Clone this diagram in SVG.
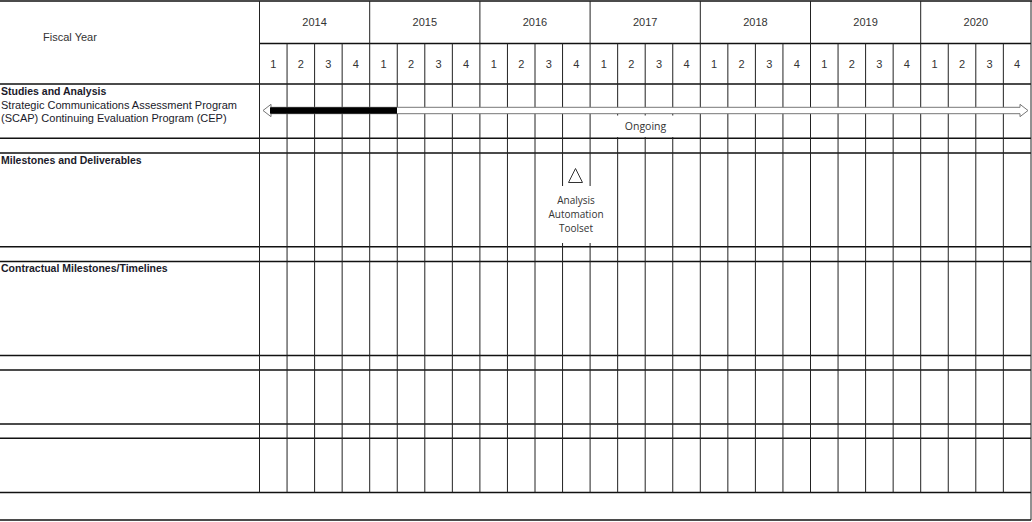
<svg xmlns="http://www.w3.org/2000/svg" width="1032" height="522" viewBox="0 0 1032 522">
  <style>
    .h { stroke:#111; stroke-width:1.5; fill:none; }
    .v { stroke:#222; stroke-width:1; fill:none; }
    .hd { font-family:"Liberation Sans", Arial, sans-serif; font-size:11px; fill:#333; text-anchor:middle; }
    .lbl { font-family:"Liberation Sans", Arial, sans-serif; font-size:11px; fill:#1a1a2a; }
    .b { font-weight:bold; font-size:10.5px; }
    .note { font-family:"Open Sans", "Noto Sans", sans-serif; font-size:10px; fill:#333; text-anchor:middle; }
  </style>
  <rect width="1032" height="522" fill="#fff"/>

  <g id="grid">
    <path class="h" d="M0 1H1032 M259.5 43.5H1031 M0 84H1031 M0 138.3H1031 M0 153H1031 M0 246.7H1031 M0 261.5H1031 M0 355.5H1031 M0 370H1031 M0 424H1031 M0 438.3H1031 M0 492.5H1031 M0 520H1031"/>
    <path class="v" d="M259.5 1V492.5 M369.7 1V492.5 M479.9 1V492.5 M590.1 1V492.5 M700.3 1V492.5 M810.5 1V492.5 M920.7 1V492.5 M1031 1V520"/>
    <path class="v" d="M287.05 43.5V492.5 M314.6 43.5V492.5 M342.15 43.5V492.5 M397.25 43.5V492.5 M424.8 43.5V492.5 M452.35 43.5V492.5 M507.45 43.5V492.5 M535 43.5V492.5 M562.55 43.5V492.5 M617.65 43.5V492.5 M645.2 43.5V492.5 M672.75 43.5V492.5 M727.85 43.5V492.5 M755.4 43.5V492.5 M782.95 43.5V492.5 M838.05 43.5V492.5 M865.6 43.5V492.5 M893.15 43.5V492.5 M948.25 43.5V492.5 M975.8 43.5V492.5 M1003.35 43.5V492.5"/>
  </g>

  <g id="header">
    <text class="hd" x="70" y="41">Fiscal Year</text>
    <text class="hd" x="314.6" y="26">2014</text>
    <text class="hd" x="424.8" y="26">2015</text>
    <text class="hd" x="535" y="26">2016</text>
    <text class="hd" x="645.2" y="26">2017</text>
    <text class="hd" x="755.4" y="26">2018</text>
    <text class="hd" x="865.6" y="26">2019</text>
    <text class="hd" x="975.8" y="26">2020</text>
    <g>
      <text class="hd" x="273.3" y="68">1</text><text class="hd" x="300.8" y="68">2</text><text class="hd" x="328.4" y="68">3</text><text class="hd" x="355.9" y="68">4</text>
      <text class="hd" x="383.5" y="68">1</text><text class="hd" x="411.0" y="68">2</text><text class="hd" x="438.6" y="68">3</text><text class="hd" x="466.1" y="68">4</text>
      <text class="hd" x="493.7" y="68">1</text><text class="hd" x="521.2" y="68">2</text><text class="hd" x="548.8" y="68">3</text><text class="hd" x="576.3" y="68">4</text>
      <text class="hd" x="603.9" y="68">1</text><text class="hd" x="631.4" y="68">2</text><text class="hd" x="659.0" y="68">3</text><text class="hd" x="686.5" y="68">4</text>
      <text class="hd" x="714.1" y="68">1</text><text class="hd" x="741.6" y="68">2</text><text class="hd" x="769.2" y="68">3</text><text class="hd" x="796.7" y="68">4</text>
      <text class="hd" x="824.3" y="68">1</text><text class="hd" x="851.8" y="68">2</text><text class="hd" x="879.4" y="68">3</text><text class="hd" x="906.9" y="68">4</text>
      <text class="hd" x="934.5" y="68">1</text><text class="hd" x="962.0" y="68">2</text><text class="hd" x="989.6" y="68">3</text><text class="hd" x="1017.1" y="68">4</text>
    </g>
  </g>

  <g id="row-studies">
    <text class="lbl b" x="1" y="95">Studies and Analysis</text>
    <text class="lbl" x="1" y="108.5">Strategic Communications Assessment Program</text>
    <text class="lbl" x="1" y="122">(SCAP) Continuing Evaluation Program (CEP)</text>
  </g>
  <g id="row-milestones">
    <text class="lbl b" x="1" y="164">Milestones and Deliverables</text>
  </g>
  <g id="row-contractual">
    <text class="lbl b" x="1" y="272">Contractual Milestones/Timelines</text>
  </g>

  <g id="connectors">
    <g id="scap-arrow">
      <path d="M263 110.5 L271 104.3 V107.3 H1020 V104.3 L1028 110.5 L1020 116.7 V113.7 H271 V116.7 Z" fill="#fff" stroke="#777" stroke-width="1"/>
      <rect x="270" y="107.3" width="127" height="6.4" fill="#000"/>
    </g>
  </g>

  <g id="ongoing-label">
    <rect x="606" y="115.5" width="80" height="21.5" fill="#fff"/>
    <text class="note" x="645.5" y="130" style="font-size:10.5px">Ongoing</text>
  </g>

  <g id="milestone-aat">
    <rect x="547" y="186" width="60" height="57" fill="#fff"/>
    <path d="M575.5 168.5 L582.5 182.5 H568.5 Z" fill="#fff" stroke="#333" stroke-width="1"/>
    <text class="note" x="576" y="204">Analysis</text>
    <text class="note" x="576" y="218">Automation</text>
    <text class="note" x="576" y="232">Toolset</text>
  </g>
</svg>
